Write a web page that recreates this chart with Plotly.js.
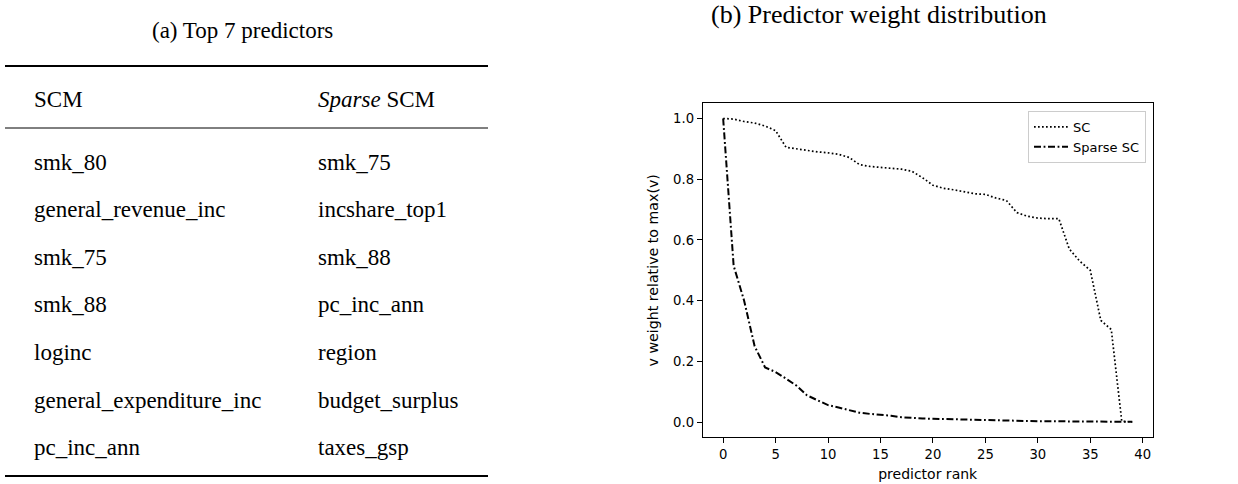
<!DOCTYPE html>
<html>
<head>
<meta charset="utf-8">
<script src="https://cdn.plot.ly/plotly-3.0.1.min.js"></script>
<style>html,body{margin:0;padding:0;background:#fff;}#chart{width:1238px;height:484px;}</style>
</head>
<body>
<div id="chart"></div>
<script>
// ---- data ----
const tableTitle = "(a) Top 7 predictors";
const chartTitle = "(b) Predictor weight distribution";
const colHeaders = ["SCM", "<i>Sparse</i> SCM"];
const scmPredictors = ["smk_80", "general_revenue_inc", "smk_75", "smk_88", "loginc", "general_expenditure_inc", "pc_inc_ann"];
const sparsePredictors = ["smk_75", "incshare_top1", "smk_88", "pc_inc_ann", "region", "budget_surplus", "taxes_gsp"];

const predictorRank = [0,1,2,3,4,5,6,7,8,9,10,11,12,13,14,15,16,17,18,19,20,21,22,23,24,25,26,27,28,29,30,31,32,33,34,35,36,37,38,39];
const scWeight = [1.000,0.998,0.990,0.985,0.975,0.960,0.905,0.900,0.893,0.890,
                  0.887,0.882,0.872,0.848,0.842,0.839,0.836,0.833,0.826,0.805,
                  0.780,0.770,0.765,0.758,0.752,0.750,0.738,0.730,0.690,0.678,
                  0.672,0.670,0.670,0.570,0.530,0.500,0.335,0.305,0.003,0.000];
const sparseWeight = [1.000,0.515,0.400,0.250,0.180,0.165,0.143,0.120,0.088,0.072,
                      0.056,0.048,0.039,0.031,0.027,0.025,0.021,0.016,0.013,0.012,
                      0.011,0.010,0.009,0.008,0.007,0.006,0.005,0.004,0.004,0.003,
                      0.003,0.003,0.002,0.002,0.002,0.002,0.002,0.002,0.002,0.001];
const seriesNames = ["SC", "Sparse SC"];
const xTicks = [0,5,10,15,20,25,30,35,40];
const yTicks = [0.0,0.2,0.4,0.6,0.8,1.0];

// ---- layout helpers (pixel -> paper) ----
const W = 1238, H = 484;
const px = x => x / W;
const py = y => 1 - y / H;

const serif = "Liberation Serif, Times New Roman, serif";
const sans = "DejaVu Sans, sans-serif";

const annotations = [];
annotations.push({text: tableTitle, x: px(243), y: py(30), xref:"paper", yref:"paper",
  xanchor:"center", yanchor:"middle", showarrow:false, font:{family:serif, size:23, color:"#000"}});
annotations.push({text: chartTitle, x: px(879), y: py(14), xref:"paper", yref:"paper",
  xanchor:"center", yanchor:"middle", showarrow:false, font:{family:serif, size:26, color:"#000"}});

const colX = [32, 316];
const headerY = 100;
colHeaders.forEach((h, i) => annotations.push({text: h, x: px(colX[i]), y: py(headerY), xref:"paper", yref:"paper",
  xanchor:"left", yanchor:"middle", showarrow:false, font:{family:serif, size:23, color:"#000"}}));
const rowY0 = 162, rowStep = 47.6;
scmPredictors.forEach((t, r) => annotations.push({text: t, x: px(colX[0]), y: py(rowY0 + r*rowStep), xref:"paper", yref:"paper",
  xanchor:"left", yanchor:"middle", showarrow:false, font:{family:serif, size:23, color:"#000"}}));
sparsePredictors.forEach((t, r) => annotations.push({text: t, x: px(colX[1]), y: py(rowY0 + r*rowStep), xref:"paper", yref:"paper",
  xanchor:"left", yanchor:"middle", showarrow:false, font:{family:serif, size:23, color:"#000"}}));

const shapes = [
  {type:"line", xref:"paper", yref:"paper", x0:px(5), x1:px(488), y0:py(66), y1:py(66), line:{color:"#000", width:2}},
  {type:"line", xref:"paper", yref:"paper", x0:px(5), x1:px(488), y0:py(128), y1:py(128), line:{color:"#000", width:1}},
  {type:"line", xref:"paper", yref:"paper", x0:px(5), x1:px(488), y0:py(476), y1:py(476), line:{color:"#000", width:2}}
];

const traces = [
  {x: predictorRank, y: scWeight, name: seriesNames[0], type:"scatter", mode:"lines",
   line:{color:"#000", width:1.7, dash:"1.7px,2.3px"}},
  {x: predictorRank, y: sparseWeight, name: seriesNames[1], type:"scatter", mode:"lines",
   line:{color:"#000", width:2, dash:"7px,2.6px,1.8px,2.6px"}}
];

const layout = {
  width: W, height: H,
  margin: {l:0, r:0, t:0, b:0},
  paper_bgcolor:"#fff", plot_bgcolor:"#fff",
  showlegend: true,
  legend: {x: px(1146), y: py(111), xanchor:"right", yanchor:"top",
           bordercolor:"#cccccc", borderwidth:1, bgcolor:"#fff", itemwidth:34,
           font:{family:sans, size:13, color:"#000"}},
  xaxis: {domain:[px(702.7), px(1152.7)], range:[-1.95, 40.95],
          tickvals: xTicks, ticktext: xTicks.map(String),
          ticks:"outside", ticklen:5, tickwidth:1, tickcolor:"#000",
          showline:true, mirror:true, linecolor:"#000", linewidth:1,
          showgrid:false, zeroline:false,
          tickfont:{family:sans, size:13.2, color:"#000"},
          title:{text:"predictor rank", font:{family:sans, size:14, color:"#000"}, standoff:8}},
  yaxis: {domain:[py(437.3), py(103.3)], range:[-0.05, 1.05],
          tickvals: yTicks, ticktext: yTicks.map(v => v.toFixed(1)),
          ticks:"outside", ticklen:5, tickwidth:1, tickcolor:"#000",
          showline:true, mirror:true, linecolor:"#000", linewidth:1,
          showgrid:false, zeroline:false,
          tickfont:{family:sans, size:13.2, color:"#000"},
          title:{text:"v weight relative to max(v)", font:{family:sans, size:14.2, color:"#000"}, standoff:11}},
  annotations: annotations,
  shapes: shapes
};

Plotly.newPlot("chart", traces, layout, {displayModeBar:false, staticPlot:true});
</script>
</body>
</html>
